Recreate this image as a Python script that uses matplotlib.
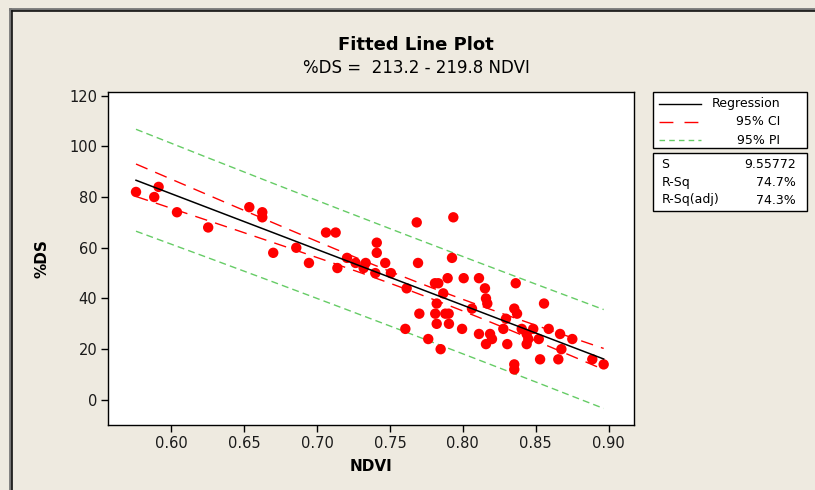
import numpy as np
import matplotlib
matplotlib.use('Agg')
import matplotlib.pyplot as plt
from matplotlib.lines import Line2D
from matplotlib.patches import Rectangle

# ── Data ──
NDVI = [0.5759, 0.5884, 0.5914, 0.6040, 0.6254, 0.6536, 0.6625, 0.6625,
        0.6700, 0.6858, 0.6945, 0.7062, 0.7128, 0.7140, 0.7206, 0.7265,
        0.7320, 0.7334, 0.7400, 0.7410, 0.7410, 0.7468, 0.7507,
        0.7615, 0.7606, 0.7684, 0.7693, 0.7702, 0.7763, 0.7848, 0.7809,
        0.7832, 0.7866, 0.7821, 0.7811, 0.7880, 0.7903, 0.7821, 0.7905,
        0.7896, 0.7926, 0.7935, 0.7995, 0.8006, 0.8063, 0.8111, 0.8111,
        0.8152, 0.8159, 0.8168, 0.8159, 0.8187, 0.8200, 0.8278, 0.8296,
        0.8305, 0.8353, 0.8372, 0.8363, 0.8353, 0.8353, 0.8404, 0.8438,
        0.8438, 0.8449, 0.8483, 0.8521, 0.8530, 0.8557, 0.8589, 0.8667,
        0.8676, 0.8655, 0.8751, 0.8888, 0.8966]
DS = [82, 80, 84, 74, 68, 76, 74, 72,
      58, 60, 54, 66, 66, 52, 56, 54,
      52, 54, 50, 62, 58, 54, 50,
      44, 28, 70, 54, 34, 24, 20, 46,
      46, 42, 38, 34, 34, 34, 30, 30,
      48, 56, 72, 28, 48, 36, 48, 26,
      44, 40, 38, 22, 26, 24, 28, 32,
      22, 36, 34, 46, 14, 12, 28, 26,
      22, 24, 28, 24, 16, 38, 28, 26,
      20, 16, 24, 16, 14]

B0, B1 = 213.2, -219.8
S_VAL = 9.55772
T_CRIT = 1.993          # t(0.975, n-2)
STATS_LABELS = ['S', 'R-Sq', 'R-Sq(adj)']
STATS_VALUES = ['9.55772', '74.7%', '74.3%']

XTICKS = [0.60, 0.65, 0.70, 0.75, 0.80, 0.85, 0.90]
YTICKS = [0, 20, 40, 60, 80, 100, 120]

BG = '#EEEAE0'
RED = '#FF0000'
GREEN = '#66CC66'

W, H = 815, 490
plt.rcParams['font.family'] = ['DejaVu Sans']

fig = plt.figure(figsize=(W / 100, H / 100), dpi=100, facecolor=BG)


def fx(px):
    return px / W


def fy(py):
    return 1 - py / H


# ── Main axes ──
ax = fig.add_axes([fx(108.3), fy(425), fx(634) - fx(108.3), fy(92.3) - fy(425)])
ax.set_facecolor('white')

x = np.array(NDVI)
y = np.array(DS)
n = len(x)
xbar = x.mean()
sxx = ((x - xbar) ** 2).sum()

xg = np.linspace(x.min(), x.max(), 200)
yfit = B0 + B1 * xg
se_mean = S_VAL * np.sqrt(1 / n + (xg - xbar) ** 2 / sxx)
se_pred = S_VAL * np.sqrt(1 + 1 / n + (xg - xbar) ** 2 / sxx)

ax.plot(xg, yfit + T_CRIT * se_pred, color=GREEN, lw=1.0, dashes=(5, 3), zorder=2)
ax.plot(xg, yfit - T_CRIT * se_pred, color=GREEN, lw=1.0, dashes=(5, 3), zorder=2)
ax.plot(xg, yfit + T_CRIT * se_mean, color=RED, lw=1.0, dashes=(9, 6), zorder=2)
ax.plot(xg, yfit - T_CRIT * se_mean, color=RED, lw=1.0, dashes=(9, 6), zorder=2)
ax.scatter(x, y, s=56, color=RED, edgecolors='none', zorder=3)
ax.plot(xg, yfit, color='black', lw=1.1, zorder=4)

ax.set_xlim(0.5569, 0.9174)
ax.set_ylim(-9.9, 121.3)
ax.set_xticks(XTICKS)
ax.set_xticklabels([f'{v:.2f}' for v in XTICKS])
ax.set_yticks(YTICKS)
ax.tick_params(direction='out', length=5, width=1, labelsize=10.5,
               colors='black', labelcolor='#1a1a1a', pad=3)
for sp in ax.spines.values():
    sp.set_linewidth(1.0)
    sp.set_color('black')

ax.set_xlabel('NDVI', fontsize=11, fontweight='bold', labelpad=6)
ax.set_ylabel('%DS', fontsize=11, fontweight='bold', labelpad=14)

# ── Titles ──
fig.text(fx(416), fy(45), 'Fitted Line Plot', ha='center', va='center',
         fontsize=13, fontweight='bold')
fig.text(fx(416), fy(68), '%DS =  213.2 - 219.8 NDVI', ha='center', va='center',
         fontsize=12)

# ── Legend box ──
fig.add_artist(Rectangle((fx(652.7), fy(148.3)), fx(806.7) - fx(652.7), fy(91.7) - fy(148.3),
                         transform=fig.transFigure, facecolor='white', edgecolor='black', lw=1.0))
leg_rows = [('Regression', 'black', '-', 104),
            ('95% CI', RED, (0, (10, 8)), 121.7),
            ('95% PI', GREEN, (0, (4, 3)), 140)]
for label, col, ls, py in leg_rows:
    fig.add_artist(Line2D([fx(659), fx(701)], [fy(py), fy(py)], transform=fig.transFigure,
                          color=col, lw=1.0, linestyle=ls))
    fig.text(fx(780), fy(py), label, ha='right', va='center', fontsize=9)

# ── Stats box ──
fig.add_artist(Rectangle((fx(652.7), fy(210.7)), fx(806.7) - fx(652.7), fy(152.7) - fy(210.7),
                         transform=fig.transFigure, facecolor='white', edgecolor='black', lw=1.0))
for lbl, val, py in zip(STATS_LABELS, STATS_VALUES, [164, 182.5, 200]):
    fig.text(fx(661.5), fy(py), lbl, ha='left', va='center', fontsize=9)
    fig.text(fx(796), fy(py), val, ha='right', va='center', fontsize=9)

# ── Outer frame (top and left) ──
for off, col, lw in [(9.5, '#777777', 2.0), (11.5, '#111111', 1.2)]:
    fig.add_artist(Line2D([fx(off), fx(W)], [fy(off), fy(off)], transform=fig.transFigure,
                          color=col, lw=lw))
    fig.add_artist(Line2D([fx(off), fx(off)], [fy(off), fy(H)], transform=fig.transFigure,
                          color=col, lw=lw))

fig.savefig('out.png', dpi=100, facecolor=BG)
